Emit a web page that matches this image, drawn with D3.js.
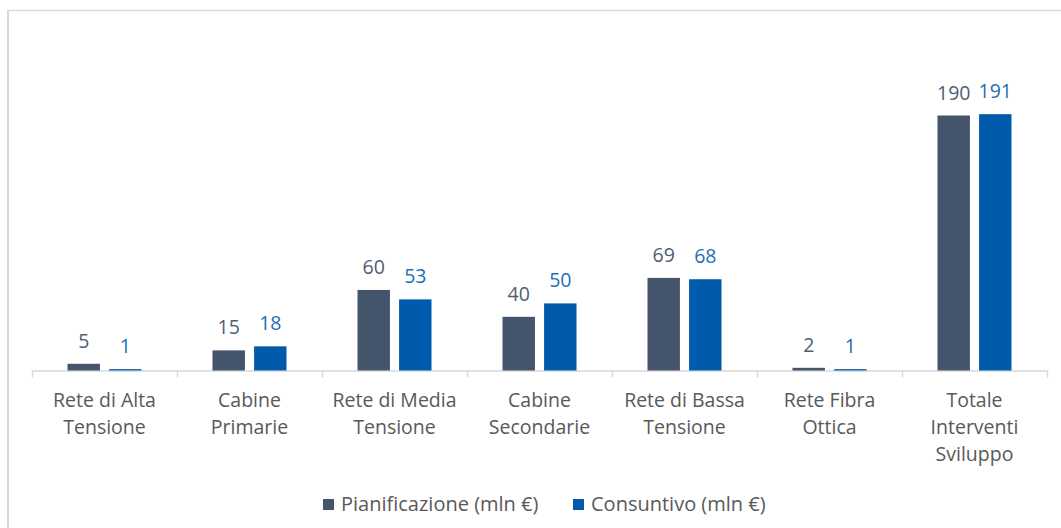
<!DOCTYPE html>
<html>
<head>
<meta charset="utf-8">
<script src="https://cdn.jsdelivr.net/npm/d3@7"></script>
<style>
  body { margin: 0; background: #fff; }
  text { font-family: "Open Sans", sans-serif; }
</style>
</head>
<body>
<div id="chart"></div>
<script>
const categories = [
    ["Rete di Alta", "Tensione"],
    ["Cabine", "Primarie"],
    ["Rete di Media", "Tensione"],
    ["Cabine", "Secondarie"],
    ["Rete di Bassa", "Tensione"],
    ["Rete Fibra", "Ottica"],
    ["Totale", "Interventi", "Sviluppo"]
];
const seriesNames = ["Pianificazione (mln €)", "Consuntivo (mln €)"];
const pianificazione = [5, 15, 60, 40, 69, 2, 190];
const consuntivo = [1, 18, 53, 50, 68, 1, 191];

const W = 1061, H = 528;
const barColors = ["#44546A", "#005BAC"];
const labelColors = ["#505E73", "#1F6EB7"];

const svg = d3.select("#chart").append("svg")
    .attr("width", W)
    .attr("height", H);

// chart frame (only top and left visible in the crop)
svg.append("line").attr("x1", 8).attr("x2", W).attr("y1", 10.5).attr("y2", 10.5)
    .attr("stroke", "#d9d9d9").attr("stroke-width", 1.5);
svg.append("line").attr("x1", 8).attr("x2", 8).attr("y1", 10).attr("y2", H)
    .attr("stroke", "#d9d9d9").attr("stroke-width", 2);

const left = 32, right = 1047, baseline = 370.5;

const x0 = d3.scaleBand()
    .domain(d3.range(categories.length))
    .range([left, right]);

const x1 = d3.scaleBand()
    .domain([0, 1])
    .range([-37, 37])
    .paddingInner(0.22);

const y = d3.scaleLinear()
    .domain([0, 190])
    .range([baseline, 115.5]);

const xAxis = d3.axisBottom(x0).tickSize(0).tickFormat("");
const axisG = svg.append("g")
    .attr("transform", "translate(0," + baseline + ")")
    .call(xAxis);
axisG.select(".domain").attr("stroke", "#d9d9d9").attr("stroke-width", 1.5);

// tick separators between categories
svg.selectAll(".sep")
    .data(d3.range(categories.length + 1))
    .enter().append("line")
    .attr("class", "sep")
    .attr("x1", d => (d < categories.length ? x0(d) : right) + 0.5)
    .attr("x2", d => (d < categories.length ? x0(d) : right) + 0.5)
    .attr("y1", baseline)
    .attr("y2", baseline + 7)
    .attr("stroke", "#d9d9d9")
    .attr("stroke-width", 1.5);

const values = [pianificazione, consuntivo];

values.forEach(function (vals, s) {
    const g = svg.append("g");
    g.selectAll("rect")
        .data(vals)
        .enter().append("rect")
        .attr("x", (d, i) => x0(i) + x0.bandwidth() / 2 + x1(s))
        .attr("width", x1.bandwidth())
        .attr("y", d => y(d))
        .attr("height", d => baseline - y(d))
        .attr("fill", barColors[s]);

    g.selectAll("text")
        .data(vals)
        .enter().append("text")
        .attr("x", (d, i) => x0(i) + x0.bandwidth() / 2 + x1(s) + x1.bandwidth() / 2)
        .attr("y", d => y(d) - 16)
        .attr("text-anchor", "middle")
        .attr("font-size", "19.5px")
        .attr("fill", labelColors[s])
        .text(d => d);
});

// category labels
categories.forEach(function (lines, i) {
    const t = svg.append("text")
        .attr("text-anchor", "middle")
        .attr("font-size", "19.5px")
        .attr("fill", "#595959");
    lines.forEach(function (line, k) {
        t.append("tspan")
            .attr("x", x0(i) + x0.bandwidth() / 2)
            .attr("y", 407 + k * 27)
            .text(line);
    });
});

// legend
const legendX = [323, 573];
seriesNames.forEach(function (name, s) {
    svg.append("rect")
        .attr("x", legendX[s])
        .attr("y", 499)
        .attr("width", 11)
        .attr("height", 11)
        .attr("fill", barColors[s]);
    svg.append("text")
        .attr("x", legendX[s] + 18)
        .attr("y", 511)
        .attr("font-size", "20px")
        .attr("fill", "#595959")
        .text(name);
});
</script>
</body>
</html>
